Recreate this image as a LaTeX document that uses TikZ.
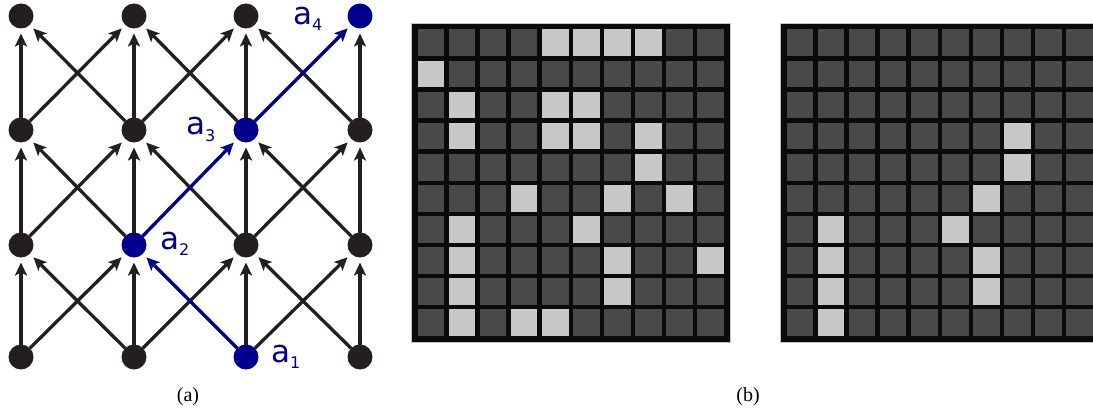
\documentclass[tikz,border=0pt]{standalone}
\usepackage{fontspec}
\setmainfont{Liberation Serif}
\newfontfamily\lblfont{DejaVu Sans}
\usetikzlibrary{arrows.meta}
\definecolor{nodeblack}{HTML}{231F20}
\definecolor{pathblue}{HTML}{00008C}
\definecolor{celldark}{HTML}{494949}
\definecolor{celllight}{HTML}{C8C8C8}
\definecolor{gridframe}{HTML}{0A0A0A}
\pgfdeclarelayer{bg}
\pgfsetlayers{bg,main}
\tikzset{
  dot/.style={circle, fill=nodeblack, minimum size=25pt, inner sep=0pt, outer sep=0pt},
  bluedot/.style={dot, fill=pathblue},
  edge/.style={line width=3.3pt, draw=nodeblack, shorten >=5pt,
    -{Stealth[length=13pt,width=12pt,inset=3pt]}},
  blueedge/.style={edge, draw=pathblue},
  lbl/.style={text=pathblue, inner sep=0pt, anchor=base west, font=\lblfont\fontsize{31}{36}\selectfont},
  caption/.style={inner sep=0pt, font=\fontsize{20}{24}\selectfont},
  frame/.style={fill=gridframe, draw=gray!45, line width=0.7pt},
  darkcell/.style={fill=celldark},
  lightcell/.style={fill=celllight}
}
\newcommand{\sbs}[1]{\raisebox{-6pt}{\fontsize{16}{16}\selectfont #1}}
\begin{document}
\begin{tikzpicture}[x=1pt,y=-1pt]
\useasboundingbox (0,0) rectangle (1093,412);
\clip (0,0) rectangle (1093,412);

% ---------- graph (a) ----------
\node[dot]     (n-0-0) at (21,357) {};
\node[dot]     (n-1-0) at (134,357) {};
\node[bluedot] (n-2-0) at (246,357) {};
\node[dot]     (n-3-0) at (360,357) {};
\node[dot]     (n-0-1) at (21,245) {};
\node[bluedot] (n-1-1) at (134,245) {};
\node[dot]     (n-2-1) at (246,245) {};
\node[dot]     (n-3-1) at (360,245) {};
\node[dot]     (n-0-2) at (21,130) {};
\node[dot]     (n-1-2) at (134,130) {};
\node[bluedot] (n-2-2) at (246,130) {};
\node[dot]     (n-3-2) at (360,130) {};
\node[dot]     (n-0-3) at (21,16) {};
\node[dot]     (n-1-3) at (134,16) {};
\node[dot]     (n-2-3) at (246,16) {};
\node[bluedot] (n-3-3) at (360,16) {};

\begin{pgfonlayer}{bg}
  % vertical edges
  \foreach \i in {0,1,2,3}{
    \foreach \j in {0,1,2}{
      \pgfmathtruncatemacro{\jn}{\j+1}
      \draw[edge] (n-\i-\j) -- (n-\i-\jn);
    }
  }
  % up-right edges
  \foreach \i/\j in {0/0,1/0,2/0,0/1,2/1,0/2,1/2}{
    \pgfmathtruncatemacro{\ii}{\i+1}
    \pgfmathtruncatemacro{\jn}{\j+1}
    \draw[edge] (n-\i-\j) -- (n-\ii-\jn);
  }
  % up-left edges
  \foreach \i/\j in {1/0,3/0,1/1,2/1,3/1,1/2,2/2,3/2}{
    \pgfmathtruncatemacro{\ii}{\i-1}
    \pgfmathtruncatemacro{\jn}{\j+1}
    \draw[edge] (n-\i-\j) -- (n-\ii-\jn);
  }
  % blue path
  \draw[blueedge] (n-2-0) -- (n-1-1);
  \draw[blueedge] (n-1-1) -- (n-2-2);
  \draw[blueedge] (n-2-2) -- (n-3-3);
\end{pgfonlayer}

\node[lbl] (l1) at (271,362) {a\sbs{1}};
\node[lbl] (l2) at (160,249) {a\sbs{2}};
\node[lbl] (l3) at (186,135) {a\sbs{3}};
\node[lbl] (l4) at (293,25)  {a\sbs{4}};

\node[caption] (capa) at (188,397) {(a)};
\node[caption] (capb) at (748,397) {(b)};

% ---------- grid 1 ----------
\fill[frame] (411,23) rectangle +(319,319);
\foreach \r in {0,...,9}{
  \foreach \c in {0,...,9}{
    \fill[darkcell] ({411+6.5+\c*31.1},{23+6.5+\r*31.1}) rectangle +(26.6,26.6);
  }
}
\foreach \r/\c in {0/4,0/5,0/6,0/7,1/0,2/1,2/4,2/5,3/1,3/4,3/5,3/7,4/7,5/3,5/6,5/8,6/1,6/5,7/1,7/6,7/9,8/1,8/6,9/1,9/3,9/4}{
  \fill[lightcell] ({411+6.5+\c*31.1},{23+6.5+\r*31.1}) rectangle +(26.6,26.6);
}

% ---------- grid 2 ----------
\fill[frame] (780,23) rectangle +(319,319);
\foreach \r in {0,...,9}{
  \foreach \c in {0,...,9}{
    \fill[darkcell] ({780+6.5+\c*31.1},{23+6.5+\r*31.1}) rectangle +(26.6,26.6);
  }
}
\foreach \r/\c in {3/7,4/7,5/6,6/1,6/5,7/1,7/6,8/1,8/6,9/1}{
  \fill[lightcell] ({780+6.5+\c*31.1},{23+6.5+\r*31.1}) rectangle +(26.6,26.6);
}
\end{tikzpicture}
\end{document}
